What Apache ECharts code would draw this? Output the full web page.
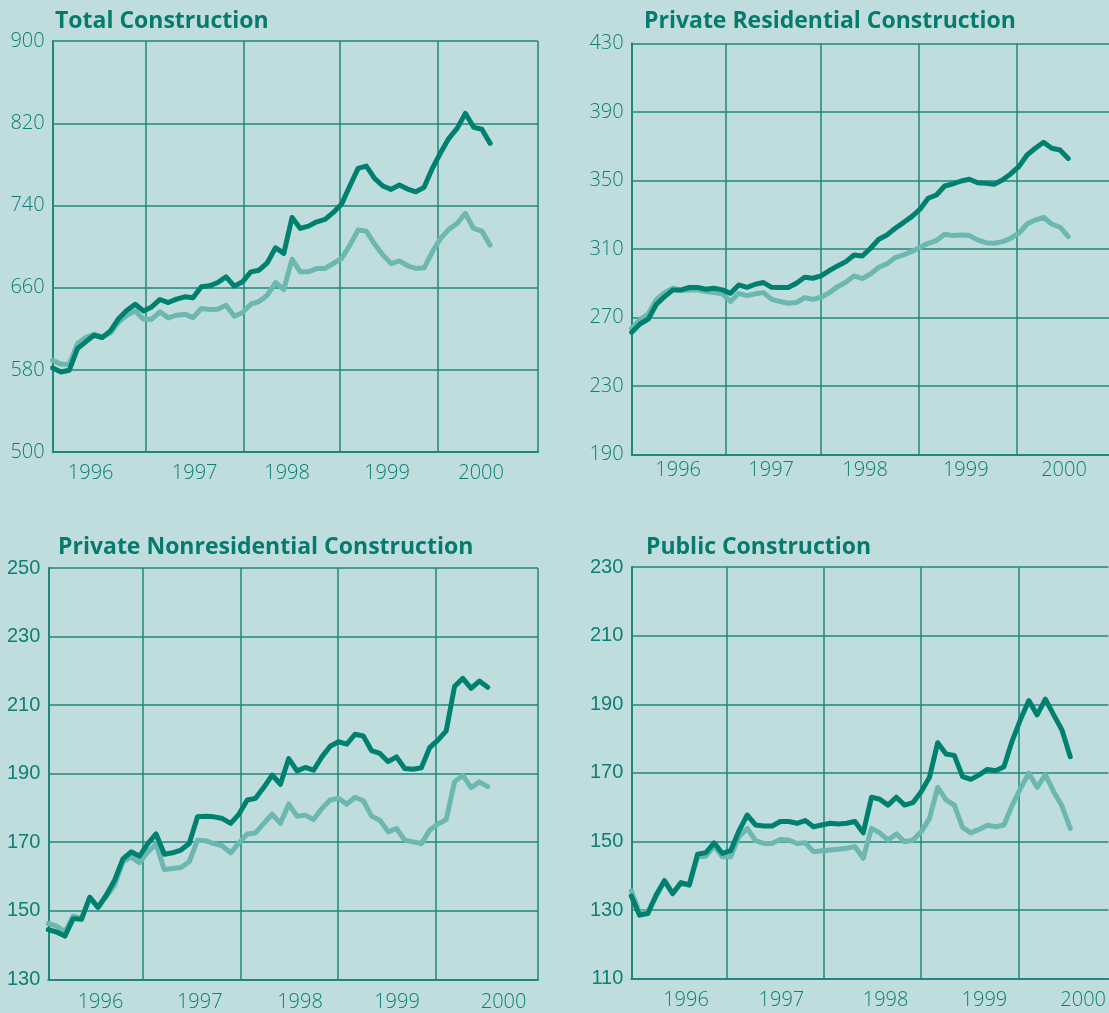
<!DOCTYPE html>
<html>
<head>
<meta charset="utf-8">
<script src="https://cdn.jsdelivr.net/npm/echarts@6/dist/echarts.min.js"></script>
<style>
  html, body { margin: 0; padding: 0; background: #bfdddc; }
  #chart { width: 1109px; height: 1013px; }
</style>
</head>
<body>
<div id="chart"></div>
<script>
// ---- Data (monthly observations, 1996 to mid-2000) ----
const yearLabels = ['1996', '1997', '1998', '1999', '2000'];

const totalDark = [582.0, 578.1, 579.7, 600.8, 607.3, 613.8, 611.6, 618.1, 630.1, 638.2,
  644.0, 637.5, 641.4, 648.6, 645.6, 648.9, 651.2, 650.2, 660.9, 661.9,
  665.1, 670.6, 661.6, 665.8, 675.5, 677.1, 684.3, 698.9, 693.4, 728.4,
  717.7, 720.0, 724.2, 726.5, 733.3, 741.4, 759.0, 776.2, 778.4, 766.4,
  759.0, 755.7, 760.0, 756.0, 753.4, 757.7, 776.2, 791.4, 805.4, 815.1,
  829.7, 816.1, 814.2, 800.5];
const totalLight = [589.5, 585.6, 585.6, 605.7, 611.6, 614.8, 612.2, 616.1, 626.8, 633.3,
  637.5, 629.4, 629.4, 636.6, 630.7, 633.3, 634.3, 631.0, 639.8, 638.8,
  639.1, 643.0, 632.3, 635.9, 644.0, 646.6, 652.8, 665.1, 658.3, 687.9,
  675.5, 675.5, 678.8, 678.8, 683.6, 688.5, 701.5, 716.1, 715.1, 702.5,
  691.8, 683.6, 686.2, 681.4, 678.8, 679.4, 695.0, 708.0, 716.8, 722.6,
  732.3, 717.7, 715.1, 701.5];

const residentialDark = [261.3, 266.1, 268.9, 277.6, 282.1, 286.0, 286.0, 287.4, 287.4, 286.4,
  287.0, 286.0, 284.0, 288.9, 287.5, 289.3, 290.3, 287.5, 287.4, 287.4,
  289.9, 293.4, 292.8, 294.2, 297.3, 300.0, 302.5, 306.4, 305.8, 310.3,
  315.6, 318.1, 322.0, 325.3, 328.8, 333.1, 339.5, 341.4, 346.7, 347.9,
  349.6, 350.6, 348.6, 348.2, 347.7, 350.2, 353.7, 358.0, 364.8, 368.7,
  372.2, 368.7, 367.7, 362.8];
const residentialLight = [263.6, 268.5, 272.0, 280.5, 284.4, 287.0, 285.6, 286.0, 286.0, 285.0,
  284.4, 283.7, 279.2, 284.0, 282.7, 283.7, 284.4, 280.5, 279.2, 278.2,
  278.6, 281.5, 280.5, 281.7, 284.4, 287.9, 290.5, 294.2, 292.6, 295.3,
  299.2, 301.2, 304.9, 306.4, 308.4, 310.9, 313.2, 314.8, 318.5, 317.7,
  318.1, 317.7, 315.2, 313.6, 313.2, 314.2, 316.1, 319.1, 324.5, 326.8,
  328.4, 324.5, 322.6, 317.1];

const nonresDark = [144.5, 143.8, 142.6, 147.7, 147.5, 153.9, 151.0, 154.6, 158.9, 165.1,
  167.2, 165.9, 169.6, 172.4, 166.5, 166.9, 167.7, 169.6, 177.4, 177.6,
  177.4, 176.9, 175.5, 178.2, 182.3, 182.8, 186.0, 189.6, 186.9, 194.4,
  190.8, 191.8, 191.0, 194.9, 198.0, 199.3, 198.6, 201.5, 201.0, 196.7,
  195.9, 193.5, 194.9, 191.5, 191.3, 191.7, 197.6, 199.8, 202.5, 215.4,
  217.8, 214.9, 217.0, 215.2];
const nonresLight = [146.3, 145.5, 143.9, 148.4, 147.7, 153.9, 151.0, 154.1, 157.5, 164.3,
  165.7, 164.0, 167.2, 169.4, 162.0, 162.3, 162.6, 164.3, 170.6, 170.4,
  169.6, 168.9, 166.9, 169.8, 172.4, 172.7, 175.5, 178.2, 175.5, 181.1,
  177.6, 177.9, 176.6, 179.8, 182.3, 182.8, 181.1, 183.1, 182.1, 177.6,
  176.4, 173.0, 174.0, 170.6, 170.1, 169.6, 173.5, 175.3, 176.6, 187.6,
  189.5, 185.9, 187.6, 186.2];

const publicDark = [134.1, 128.5, 129.0, 134.4, 138.5, 134.8, 138.0, 137.3, 146.3, 146.7,
  149.6, 146.5, 147.3, 153.1, 157.7, 154.8, 154.5, 154.5, 155.8, 155.8,
  155.3, 156.1, 154.3, 154.8, 155.3, 155.1, 155.3, 155.8, 152.5, 162.9,
  162.3, 160.6, 162.9, 160.6, 161.3, 164.5, 168.7, 178.8, 175.5, 175.1,
  168.9, 168.1, 169.4, 171.0, 170.6, 171.8, 179.4, 185.6, 191.1, 186.9,
  191.5, 186.9, 182.5, 174.7];
const publicLight = [135.6, 129.2, 129.5, 133.9, 138.7, 134.8, 137.8, 137.3, 145.5, 145.7,
  148.7, 145.5, 145.5, 151.4, 153.8, 150.2, 149.4, 149.4, 150.6, 150.4,
  149.4, 149.6, 147.0, 147.3, 147.5, 147.7, 148.0, 148.5, 145.1, 153.8,
  152.5, 150.4, 152.2, 149.9, 150.4, 152.8, 156.7, 165.8, 162.1, 160.6,
  154.1, 152.5, 153.5, 154.7, 154.3, 154.8, 160.6, 165.5, 169.9, 165.8,
  169.4, 164.5, 160.3, 153.8];

const titles = ['Total Construction', 'Private Residential Construction',
  'Private Nonresidential Construction', 'Public Construction'];
const yTicksTotal = [500, 580, 660, 740, 820, 900];
const yTicksResidential = [190, 230, 270, 310, 350, 390, 430];
const yTicksNonres = [130, 150, 170, 190, 210, 230, 250];
const yTicksPublic = [110, 130, 150, 170, 190, 210, 230];

// ---- Layout / style ----
const BG = '#bfdddc';
const DARK = '#00806f';
const LIGHT = '#6cb8b1';
const GRID = '#1f877d';
const TEXT = '#0d7f74';
const HUMAN = "'Open Sans', 'Noto Sans', sans-serif";
const ARIAL = "'Liberation Sans', Arial, sans-serif";

const panels = [
  { title: titles[0], titlePos: [55, 10], dark: totalDark, light: totalLight, yTicks: yTicksTotal,
    grid: { left: 52.7, top: 41.1, width: 485.3, height: 411.1 },
    xMax: 58.8, xLines: [11.27, 23.1, 34.74, 46.67, 58.8], labelPos: [4.6, 17.2, 28.4, 40.5, 51.9],
    xMargin: 11, yFont: HUMAN },
  { title: titles[1], titlePos: [644, 10], dark: residentialDark, light: residentialLight, yTicks: yTicksResidential,
    grid: { left: 631.7, top: 43.3, width: 477.3, height: 411 },
    xMax: 57.95, xLines: [11.43, 22.96, 34.8, 46.75], labelPos: [5.64, 16.93, 28.34, 40.56, 52.49],
    xMargin: 6, yFont: HUMAN },
  { title: titles[2], titlePos: [58, 536], dark: nonresDark, light: nonresLight, yTicks: yTicksNonres,
    grid: { left: 48.3, top: 568, width: 489.7, height: 411.3 },
    xMax: 59.07, xLines: [11.39, 23.16, 34.9, 46.77, 59.07], labelPos: [6.3, 18.27, 30.36, 42.06, 54.92],
    xMargin: 13, yFont: ARIAL },
  { title: titles[3], titlePos: [646, 536], dark: publicDark, light: publicLight, yTicks: yTicksPublic,
    grid: { left: 631.3, top: 567.1, width: 477.7, height: 411.5 },
    xMax: 57.6, xLines: [11.5, 23.25, 34.98, 46.73], labelPos: [6.6, 18.13, 30.7, 42.64, 54.56],
    xMargin: 12, yFont: ARIAL }
];

const option = {
  backgroundColor: BG,
  animation: false,
  title: [], grid: [], xAxis: [], yAxis: [], series: []
};

panels.forEach((p, k) => {
  option.title.push({
    text: p.title, left: p.titlePos[0], top: p.titlePos[1], padding: 0,
    textStyle: { fontFamily: HUMAN, fontWeight: 'bold', fontSize: 23, color: '#077a6e' }
  });
  option.grid.push(Object.assign({ containLabel: false }, p.grid));
  option.xAxis.push({
    type: 'value', gridIndex: k, min: 0, max: p.xMax,
    axisLine: { show: true, lineStyle: { color: GRID, width: 2 } },
    axisTick: { show: false, customValues: p.xLines },
    splitLine: { show: true, lineStyle: { color: GRID, width: 1.5 } },
    axisLabel: {
      customValues: p.labelPos, margin: p.xMargin,
      color: TEXT, fontFamily: HUMAN, fontSize: 20, fontWeight: 300,
      formatter: (v) => {
        const i = p.labelPos.findIndex(q => Math.abs(q - v) < 1e-6);
        return i >= 0 ? yearLabels[i] : '';
      }
    }
  });
  option.yAxis.push({
    type: 'value', gridIndex: k, min: p.yTicks[0], max: p.yTicks[p.yTicks.length - 1],
    axisLine: { show: true, lineStyle: { color: GRID, width: 2 } },
    axisTick: { show: false, customValues: p.yTicks },
    splitLine: { show: true, lineStyle: { color: GRID, width: 1.5 } },
    axisLabel: {
      customValues: p.yTicks, margin: 8,
      color: TEXT, fontFamily: p.yFont, fontSize: 20, fontWeight: p.yFont === HUMAN ? 300 : 'normal'
    }
  });
  [['light', LIGHT], ['dark', DARK]].forEach(([key, col]) => {
    option.series.push({
      type: 'line', xAxisIndex: k, yAxisIndex: k,
      data: p[key].map((v, i) => [i, v]),
      showSymbol: false, symbol: 'none', smooth: false, clip: true,
      lineStyle: { color: col, width: 5, cap: 'round', join: 'round' },
      emphasis: { disabled: true }
    });
  });
});

const chart = echarts.init(document.getElementById('chart'), null, { renderer: 'canvas' });
chart.setOption(option);
</script>
</body>
</html>
